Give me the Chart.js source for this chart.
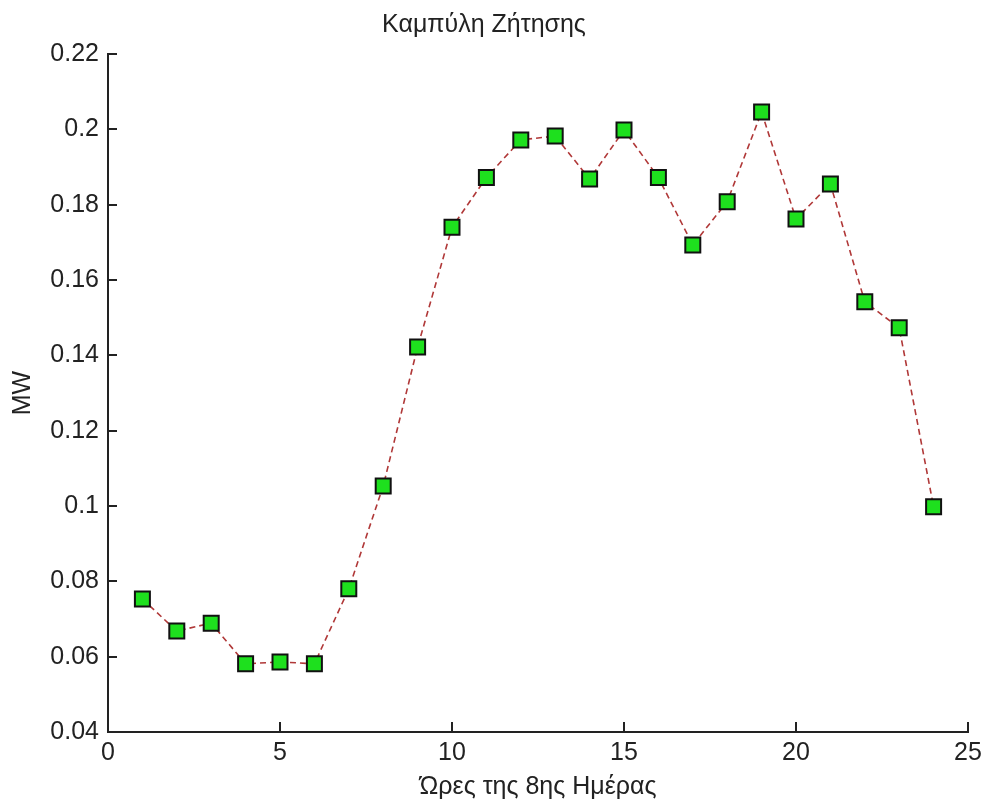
<!DOCTYPE html>
<html>
<head>
<meta charset="utf-8">
<script src="https://cdn.jsdelivr.net/npm/chart.js@4/dist/chart.umd.min.js"></script>
<style>
  html, body { margin: 0; padding: 0; background: #ffffff; }
  canvas { display: block; }
</style>
</head>
<body>
<canvas id="c" width="985" height="808"></canvas>
<script>
// ---- data ----
const hours = [1, 2, 3, 4, 5, 6, 7, 8, 9, 10, 11, 12, 13, 14, 15, 16, 17, 18, 19, 20, 21, 22, 23, 24];
const demandMW = [0.0753, 0.0668, 0.0689, 0.0581, 0.0586, 0.0581, 0.0780, 0.1053, 0.1422, 0.1740,
                  0.1872, 0.1972, 0.1982, 0.1868, 0.1998, 0.1872, 0.1693, 0.1808, 0.2046, 0.1762,
                  0.1855, 0.1542, 0.1473, 0.0998];
const xTicks = [0, 5, 10, 15, 20, 25];
const xTickLabels = ['0', '5', '10', '15', '20', '25'];
const yTicks = [0.04, 0.06, 0.08, 0.10, 0.12, 0.14, 0.16, 0.18, 0.20, 0.22];
const yTickLabels = ['0.04', '0.06', '0.08', '0.1', '0.12', '0.14', '0.16', '0.18', '0.2', '0.22'];
const chartTitle = 'Καμπύλη Ζήτησης';
const xTitle = 'Ώρες της 8ης Ημέρας';
const yTitle = 'MW';

const TEXT = '#222222';
const FONT = "'Liberation Sans', Arial, sans-serif";

Chart.defaults.font.family = FONT;
Chart.defaults.color = TEXT;

// inward tick marks (MATLAB style), positioned through the chart's own scales
const inwardTicks = {
  id: 'inwardTicks',
  afterDraw(chart) {
    const ctx = chart.ctx;
    const xs = chart.scales.x, ys = chart.scales.y;
    const area = chart.chartArea;
    ctx.save();
    ctx.strokeStyle = TEXT;
    ctx.lineWidth = 2;
    ctx.beginPath();
    xTicks.forEach(v => {
      const px = Math.round(xs.getPixelForValue(v));
      ctx.moveTo(px, area.bottom);
      ctx.lineTo(px, area.bottom - 10);
    });
    yTicks.forEach(v => {
      const py = Math.round(ys.getPixelForValue(v));
      ctx.moveTo(area.left, py);
      ctx.lineTo(area.left + 9, py);
    });
    ctx.stroke();
    ctx.restore();
  }
};

new Chart(document.getElementById('c'), {
  type: 'line',
  data: {
    datasets: [{
      data: hours.map((h, i) => ({ x: h, y: demandMW[i] })),
      borderColor: '#b03838',
      borderWidth: 1.6,
      borderDash: [6, 4],
      fill: false,
      tension: 0,
      pointStyle: 'rect',
      pointRadius: 10.6,
      pointHoverRadius: 10.6,
      pointBackgroundColor: '#1ee01e',
      pointBorderColor: '#111111',
      pointBorderWidth: 2,
      clip: false
    }]
  },
  options: {
    responsive: false,
    animation: false,
    events: [],
    layout: { padding: { left: 0, right: 17, top: 0, bottom: 0 } },
    plugins: {
      legend: { display: false },
      tooltip: { enabled: false },
      title: {
        display: true,
        text: chartTitle,
        color: TEXT,
        font: { size: 25, weight: 'normal', family: FONT, lineHeight: 1.2 },
        padding: { top: 10, bottom: 14 }
      }
    },
    scales: {
      x: {
        type: 'linear',
        position: 'bottom',
        min: 0,
        max: 25,
        afterBuildTicks: s => { s.ticks = xTicks.map(v => ({ value: v })); },
        afterFit: s => { s.height = 76; s.paddingRight = 0; s.paddingLeft = 0; },
        grid: { display: false, drawTicks: false },
        border: { display: true, color: TEXT, width: 2 },
        ticks: {
          autoSkip: false,
          maxRotation: 0,
          padding: 6,
          color: TEXT,
          font: { size: 25, family: FONT },
          callback: (v, i) => xTickLabels[i]
        },
        title: {
          display: true,
          text: xTitle,
          color: TEXT,
          font: { size: 25, family: FONT, lineHeight: 1.2 },
          padding: { top: 0, bottom: 6 }
        }
      },
      y: {
        type: 'linear',
        position: 'left',
        min: 0.04,
        max: 0.22,
        afterBuildTicks: s => { s.ticks = yTicks.map(v => ({ value: v })); },
        afterFit: s => { s.width = 108; },
        grid: { display: false, drawTicks: false },
        border: { display: true, color: TEXT, width: 2 },
        ticks: {
          autoSkip: false,
          padding: 9,
          color: TEXT,
          font: { size: 25, family: FONT },
          callback: (v, i) => yTickLabels[i]
        },
        title: {
          display: true,
          text: yTitle,
          color: TEXT,
          font: { size: 25, family: FONT, lineHeight: 1.2 },
          padding: { top: 8, bottom: 0 }
        }
      }
    }
  },
  plugins: [inwardTicks]
});
</script>
</body>
</html>
